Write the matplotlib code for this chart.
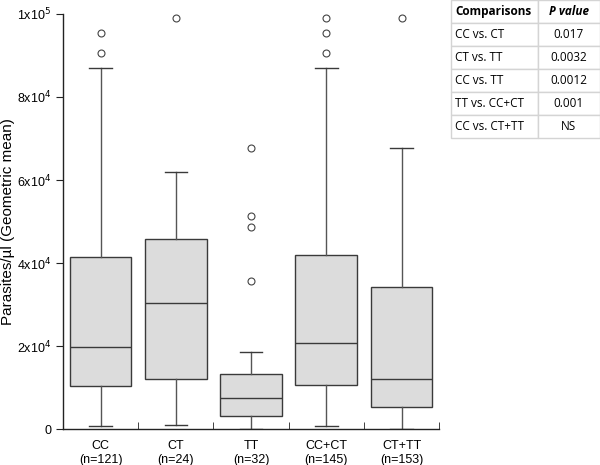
import numpy as np
import matplotlib.pyplot as plt

plt.rcParams['font.family'] = ['Liberation Sans', 'DejaVu Sans']

# Box statistics (parasites/ul)
groups = ["CC\n(n=121)", "CT\n(n=24)", "TT\n(n=32)", "CC+CT\n(n=145)", "CT+TT\n(n=153)"]
whisker_low = [700, 1000, 0, 700, 0]
q1 = [10300, 12100, 3100, 10700, 5200]
median = [19700, 30400, 7500, 20800, 12100]
q3 = [41400, 45700, 13200, 41900, 34200]
whisker_high = [87000, 61900, 18500, 86900, 67700]
outliers = [
    [90500, 95400],
    [99100],
    [35700, 48600, 51300, 67600],
    [90500, 95400, 99100],
    [99100],
]

# Comparison table
comparisons = ["CC vs. CT", "CT vs. TT", "CC vs. TT", "TT vs. CC+CT", "CC vs. CT+TT"]
p_values = ["0.017", "0.0032", "0.0012", "0.001", "NS"]

fig = plt.figure(figsize=(6, 4.65), dpi=100)
ax = fig.add_axes([0.105, 0.0774, 0.627, 0.8925])

stats = []
for i in range(len(groups)):
    stats.append(dict(whislo=whisker_low[i], q1=q1[i], med=median[i], q3=q3[i],
                      whishi=whisker_high[i], fliers=outliers[i]))

pos = np.arange(1, len(groups) + 1)
ax.bxp(stats, positions=pos, widths=0.82, patch_artist=True,
       boxprops=dict(facecolor='#dcdcdc', edgecolor='#3a3a3a', linewidth=1.0),
       medianprops=dict(color='#3a3a3a', linewidth=1.0),
       whiskerprops=dict(color='#555555', linewidth=1.0),
       capprops=dict(color='#3a3a3a', linewidth=1.0),
       capwidths=0.3,
       flierprops=dict(marker='o', markerfacecolor='none', markeredgecolor='#444444',
                       markersize=5, markeredgewidth=0.8))

ax.set_xlim(0.5, 5.5)
ax.set_ylim(0, 100000)
ax.spines['top'].set_visible(False)
ax.spines['right'].set_visible(False)
for s in ['left', 'bottom']:
    ax.spines[s].set_color('#222222')
    ax.spines[s].set_linewidth(1.0)

ax.set_xticks(pos)
ax.set_xticklabels(groups, fontsize=9)
ax.tick_params(axis='x', length=0, pad=8)
ax.set_xticks(pos + 0.5, minor=True)
ax.tick_params(axis='x', which='minor', direction='in', length=5, color='#222222')

yt = [0, 20000, 40000, 60000, 80000, 100000]
ax.set_yticks(yt)
ax.set_yticklabels(["0", r"2x10$^4$", r"4x10$^4$", r"6x10$^4$", r"8x10$^4$", r"1x10$^5$"], fontsize=9)
ax.tick_params(axis='y', length=5, color='#222222')
ax.set_ylabel("Parasites/µl (Geometric mean)", fontsize=11, va='center')
ax.yaxis.set_label_coords(-0.146, 0.5)

# Table in upper right
tax = fig.add_axes([451 / 600, 1 - 138 / 465, 149 / 600, 138 / 465])
tax.axis('off')
cells = [["Comparisons", "P value"]] + [[c, p] for c, p in zip(comparisons, p_values)]
tbl = tax.table(cellText=cells, bbox=[0, 0, 1, 1], colWidths=[87 / 149, 62 / 149],
                cellLoc='center')
tbl.auto_set_font_size(False)
for (r, c), cell in tbl.get_celld().items():
    cell.set_edgecolor('#d4d4d4')
    cell.set_linewidth(1.0)
    txt = cell.get_text()
    txt.set_fontsize(8.5)
    txt.set_fontfamily(['Open Sans', 'DejaVu Sans'])
    if c == 0:
        txt.set_ha('left')
        cell.PAD = 0.05
    if r == 0:
        txt.set_fontweight('bold')
        if c == 1:
            txt.set_fontstyle('italic')

fig.savefig("out.png", dpi=100)
